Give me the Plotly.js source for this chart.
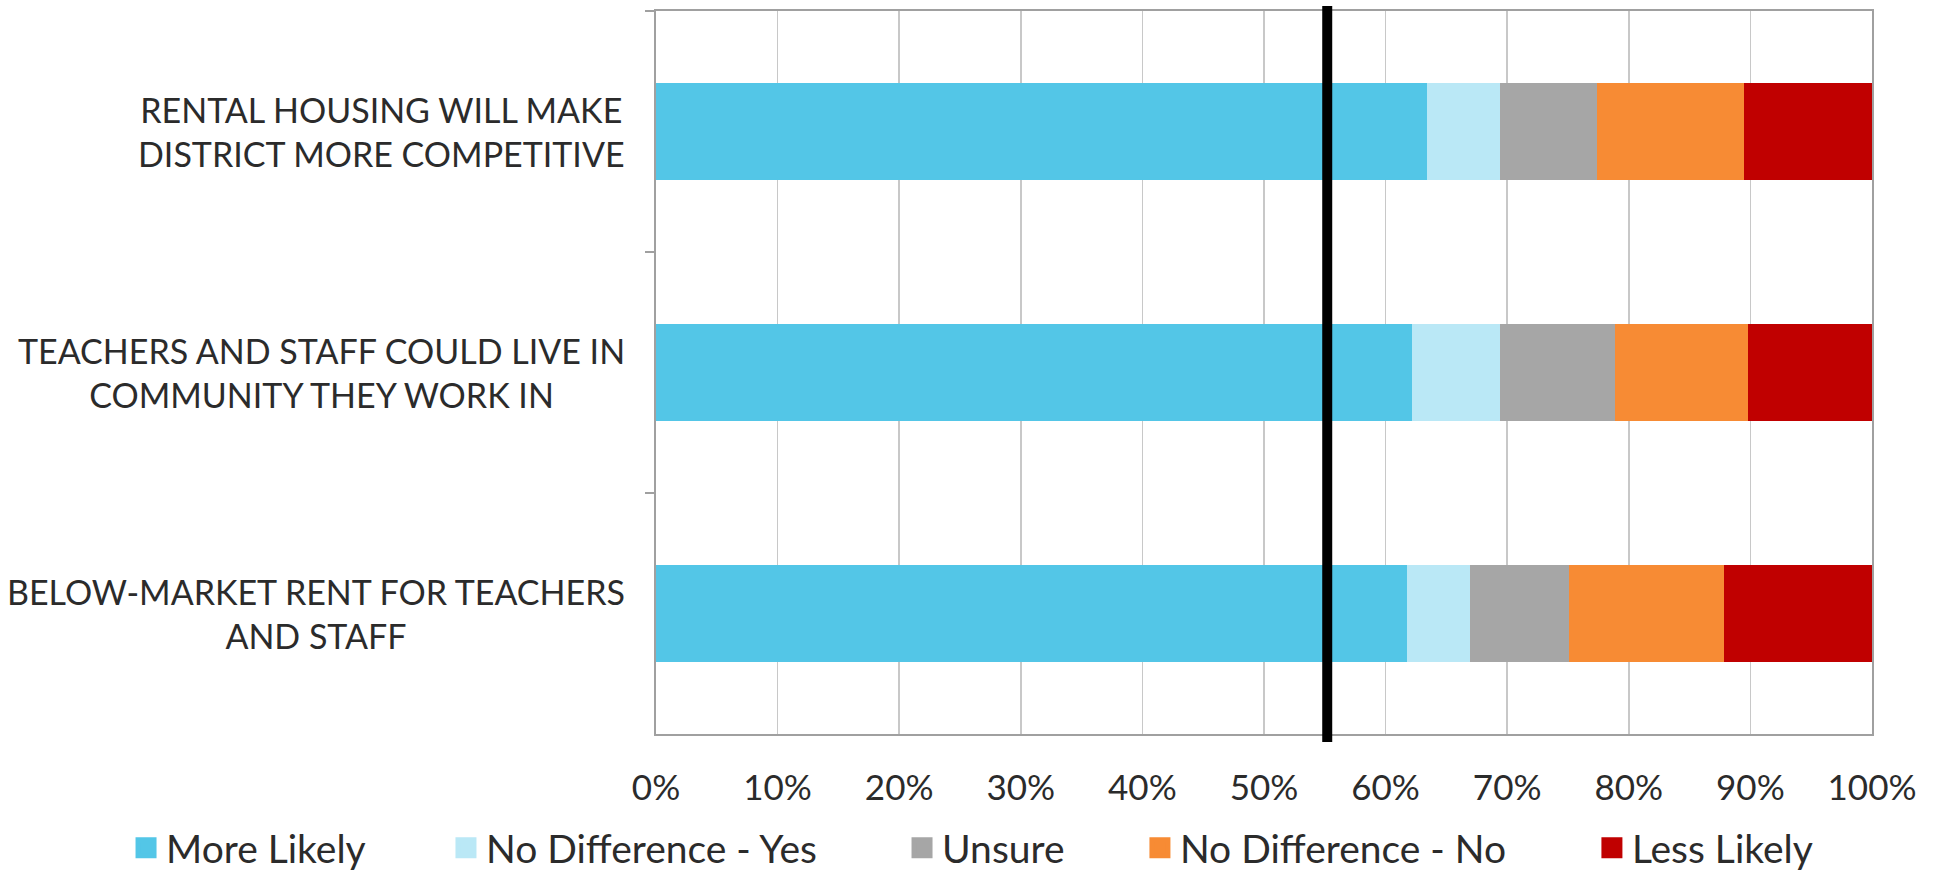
<!DOCTYPE html>
<html>
<head>
<meta charset="utf-8">
<script src="https://cdn.plot.ly/plotly-3.0.1.min.js"></script>
<style>html,body{margin:0;padding:0;background:#fff;}#chart{width:1939px;height:872px;}</style>
</head>
<body>
<div id="chart"></div>
<script>
const categories = [
  "RENTAL HOUSING WILL MAKE<br>DISTRICT MORE COMPETITIVE",
  "TEACHERS AND STAFF COULD LIVE IN<br>COMMUNITY THEY WORK IN",
  "BELOW-MARKET RENT FOR TEACHERS<br>AND STAFF"
];
const seriesNames = ["More Likely", "No Difference - Yes", "Unsure", "No Difference - No", "Less Likely"];
const moreLikely      = [0.634, 0.622, 0.618];
const noDiffYes       = [0.060, 0.072, 0.051];
const unsure          = [0.080, 0.095, 0.082];
const noDiffNo        = [0.121, 0.109, 0.127];
const lessLikely      = [0.105, 0.102, 0.122];
const benchmark = 0.552;
const xTickValues = [0, 0.1, 0.2, 0.3, 0.4, 0.5, 0.6, 0.7, 0.8, 0.9, 1.0];
const xTickLabels = ["0%", "10%", "20%", "30%", "40%", "50%", "60%", "70%", "80%", "90%", "100%"];

const colors = ["#53C6E7", "#BAE8F6", "#A6A6A6", "#F78B34", "#C00000"];
const seriesValues = [moreLikely, noDiffYes, unsure, noDiffNo, lessLikely];

const FONT = "Lato, 'Open Sans', sans-serif";
const TXT = "#2b2b2b";

// one legend per series, placed like the original's spaced legend row
const legendIds = ["legend", "legend2", "legend3", "legend4", "legend5"];
const legendLeft = [0.0650, 0.2300, 0.4652, 0.5879, 0.8210];

const barTraces = seriesValues.map((vals, i) => ({
  type: "bar",
  orientation: "h",
  name: seriesNames[i],
  y: categories,
  x: vals,
  marker: { color: colors[i] },
  showlegend: false,
  legendgroup: "g" + i,
  hoverinfo: "x+name"
}));

// legend swatches (bigger square keys than the default bar key)
const keyTraces = seriesNames.map((n, i) => ({
  type: "scatter",
  mode: "markers",
  name: n,
  x: [null], y: [null],
  marker: { symbol: "square", size: 16, color: colors[i], line: { color: colors[i], width: 5 } },
  legend: legendIds[i],
  legendgroup: "g" + i,
  showlegend: true,
  hoverinfo: "skip"
}));

const annotations = categories.map(c => ({
  text: c,
  x: -0.024, xref: "paper", xanchor: "right",
  y: c, yref: "y", yanchor: "middle",
  align: "center",
  showarrow: false,
  font: { family: FONT, size: 34, color: TXT }
}));

const layout = {
  width: 1939, height: 872,
  margin: { l: 656, r: 67, t: 11, b: 138, autoexpand: false },
  paper_bgcolor: "#fff", plot_bgcolor: "#fff",
  barmode: "stack",
  bargap: 0.6,
  showlegend: true,
  xaxis: {
    range: [0, 1],
    tickvals: xTickValues,
    ticktext: xTickLabels,
    showgrid: true, gridcolor: "#c8c8c8", gridwidth: 1.5,
    showline: true, mirror: true, linecolor: "#a0a0a0", linewidth: 2,
    zeroline: false,
    ticks: "",
    ticklabelstandoff: 22,
    tickfont: { family: FONT, size: 35, color: TXT },
    fixedrange: true
  },
  yaxis: {
    type: "category",
    categoryorder: "array",
    categoryarray: categories,
    autorange: "reversed",
    showticklabels: false,
    showline: true, mirror: true, linecolor: "#a0a0a0", linewidth: 2,
    ticks: "outside", ticklen: 9, tickcolor: "#a0a0a0", tickwidth: 2,
    tickson: "boundaries",
    showgrid: false, zeroline: false,
    fixedrange: true
  },
  shapes: [{
    type: "line", xref: "x", yref: "paper",
    x0: benchmark, x1: benchmark, y0: -0.011, y1: 1.007,
    line: { color: "#000", width: 10 },
    layer: "above"
  }],
  annotations: annotations
};

legendIds.forEach((id, i) => {
  layout[id] = {
    orientation: "h",
    xref: "container", x: legendLeft[i], xanchor: "left",
    yref: "container", y: 0.0275, yanchor: "middle",
    font: { family: FONT, size: 39, color: TXT },
    bgcolor: "rgba(0,0,0,0)"
  };
});

Plotly.newPlot("chart", barTraces.concat(keyTraces), layout, { displayModeBar: false, staticPlot: true });
</script>
</body>
</html>
